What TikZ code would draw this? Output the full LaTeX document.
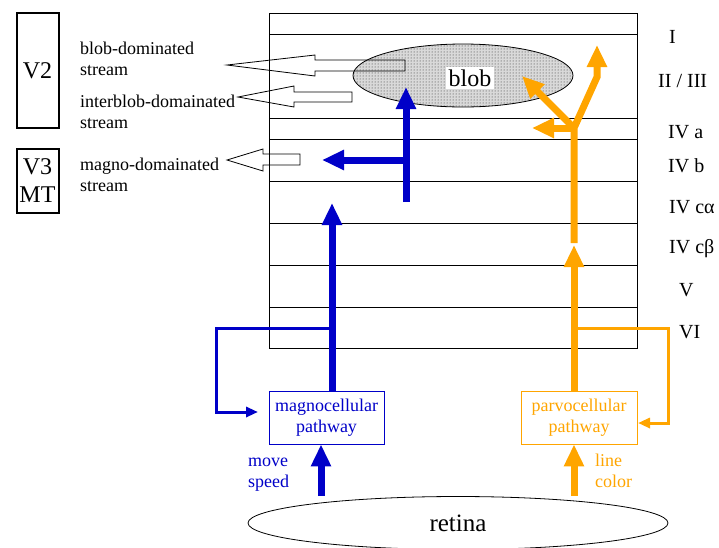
\documentclass[tikz,border=0pt]{standalone}
\usepackage{fontspec}
\setmainfont{Liberation Serif}
\usetikzlibrary{arrows.meta,shapes.geometric,patterns,calc}
\definecolor{mblue}{RGB}{0,0,200}
\definecolor{porange}{RGB}{255,165,0}
\tikzset{
  lbl/.style={font=\fontsize{18}{20.5}\selectfont, anchor=base west, inner sep=0pt, align=left},
  layer/.style={font=\fontsize{20}{24}\selectfont, anchor=base west, inner sep=0pt},
  areabox/.style={draw, line width=2pt, font=\fontsize{24}{28}\selectfont, align=center, inner sep=0pt},
  pathbox/.style={draw, line width=0.8pt, minimum height=53pt, inner sep=0pt, align=center, font=\fontsize{18}{21}\selectfont},
  openarrow/.style={draw, line width=0.8pt},
  thickb/.style={draw=mblue, line width=7pt, -{Triangle[width=19pt,length=22pt]}},
  thicko/.style={draw=porange, line width=7pt, -{Triangle[width=19pt,length=22pt]}},
  thinb/.style={draw=mblue, line width=3pt, -{Triangle[width=10pt,length=12pt]}},
  thino/.style={draw=porange, line width=3pt, -{Triangle[width=10pt,length=12pt]}},
}
\begin{document}
\begin{tikzpicture}[x=1pt,y=-1pt]
\useasboundingbox (0,0) rectangle (719,547);
% area boxes
\node[areabox, minimum width=42pt, minimum height=115pt] (v2) at (37.5,70.5) {V2};
\node[areabox, minimum width=42pt, minimum height=64pt] (v3) at (37.5,181) {V3\\MT};
% stream labels (anchor on last line's baseline)
\node[lbl] (lb1) at (80,75) {blob-dominated\\stream};
\node[lbl] (lb2) at (80,128) {interblob-domainated\\stream};
\node[lbl] (lb3) at (80,191) {magno-domainated\\stream};
% cortex box and layers
\draw[line width=0.8pt] (269,13) rectangle (637,348);
\foreach \yy in {34,118,139,181,223,265,307}{
  \draw[line width=0.8pt] (269,\yy) -- (637,\yy);
}
\node[layer] (l1) at (669,43) {I};
\node[layer] (l2) at (658,87) {II / III};
\node[layer] (l4a) at (668,138) {IV a};
\node[layer] (l4b) at (668,172) {IV b};
\node[layer] (l4ca) at (669,213) {IV cα};
\node[layer] (l4cb) at (669,253) {IV cβ};
\node[layer] (l5) at (679,296) {V};
\node[layer] (l6) at (679,338) {VI};
% blob
\node[draw, line width=0.8pt, ellipse, minimum width=220pt, minimum height=63pt, inner sep=0pt,
      preaction={fill=gray!30}, pattern=dots, pattern color=black!85] (blob) at (463,75.5) {};
\node[fill=white, inner sep=3pt, font=\fontsize{24}{28}\selectfont] (blobt) at (470,78) {blob};
% open arrows to streams
\draw[openarrow] (405,60) -- (315,60) -- (315,55) -- (227,65) -- (315,76) -- (315,71) -- (405,71) -- cycle;
\draw[openarrow] (352,92) -- (294,92) -- (294,86) -- (238,97) -- (294,107) -- (294,102) -- (352,102) -- cycle;
\draw[openarrow] (300,154) -- (263,154) -- (263,149) -- (227,160) -- (263,171) -- (263,165) -- (300,165) -- cycle;
% pathway boxes
\node[pathbox, draw=mblue, text=mblue, minimum width=115pt] (magno) at (326.5,417.5) {magnocellular\\pathway};
\node[pathbox, draw=porange, text=porange, minimum width=116pt] (parvo) at (579,417.5) {parvocellular\\pathway};
% retina
\node[draw, line width=0.8pt, ellipse, minimum width=420pt, minimum height=53pt, inner sep=0pt,
      font=\fontsize{25}{30}\selectfont] (retina) at (458,523) {retina};
% labels under boxes
\node[lbl, text=mblue] (mv) at (248,487) {move\\speed};
\node[lbl, text=porange] (lc) at (595,487) {line\\color};
% coordinates
\coordinate (mx) at (321,0);
\coordinate (px) at (574,0);
\coordinate (mv1) at (332,0);
\coordinate (mtip) at (332,203);
\coordinate (b1) at (406,202);
\coordinate (b2) at (406,160);
\coordinate (btip) at (406,87);
\coordinate (bltip) at (322,160);
\coordinate (mfb) at (332,328);
\coordinate (mfbc1) at (216,328);
\coordinate (mfbc2) at (216,412);
\coordinate (mfbtip) at (258,412);
\coordinate (ptip) at (574,245);
\coordinate (p1) at (574,243);
\coordinate (pbr) at (574,128);
\coordinate (pr1) at (597,77);
\coordinate (prtip) at (597,45);
\coordinate (pultip) at (522,76);
\coordinate (pltip) at (532,128);
\coordinate (pfb) at (574,328);
\coordinate (pfbc1) at (668,328);
\coordinate (pfbc2) at (668,423);
\coordinate (pfbtip) at (638,423);
% magno connectors
\draw[thickb] (retina.north -| mx) -- (magno.south -| mx);
\draw[thickb] (magno.north -| mv1) -- (mtip);
\draw[thinb] (mfb) -- (mfbc1) -- (mfbc2) -- (mfbtip);
\draw[thickb] (b1) -- (btip);
\draw[thickb] (b2) -- (bltip);
% parvo connectors
\draw[thicko] (retina.north -| px) -- (parvo.south -| px);
\draw[thicko] (parvo.north -| px) -- (ptip);
\draw[thino] (pfb) -- (pfbc1) -- (pfbc2) -- (pfbtip);
\draw[thicko] (p1) -- (pbr) -- (pr1) -- (prtip);
\draw[thicko] (pbr) -- (pultip);
\draw[thicko] (pbr) -- (pltip);
\end{tikzpicture}
\end{document}
